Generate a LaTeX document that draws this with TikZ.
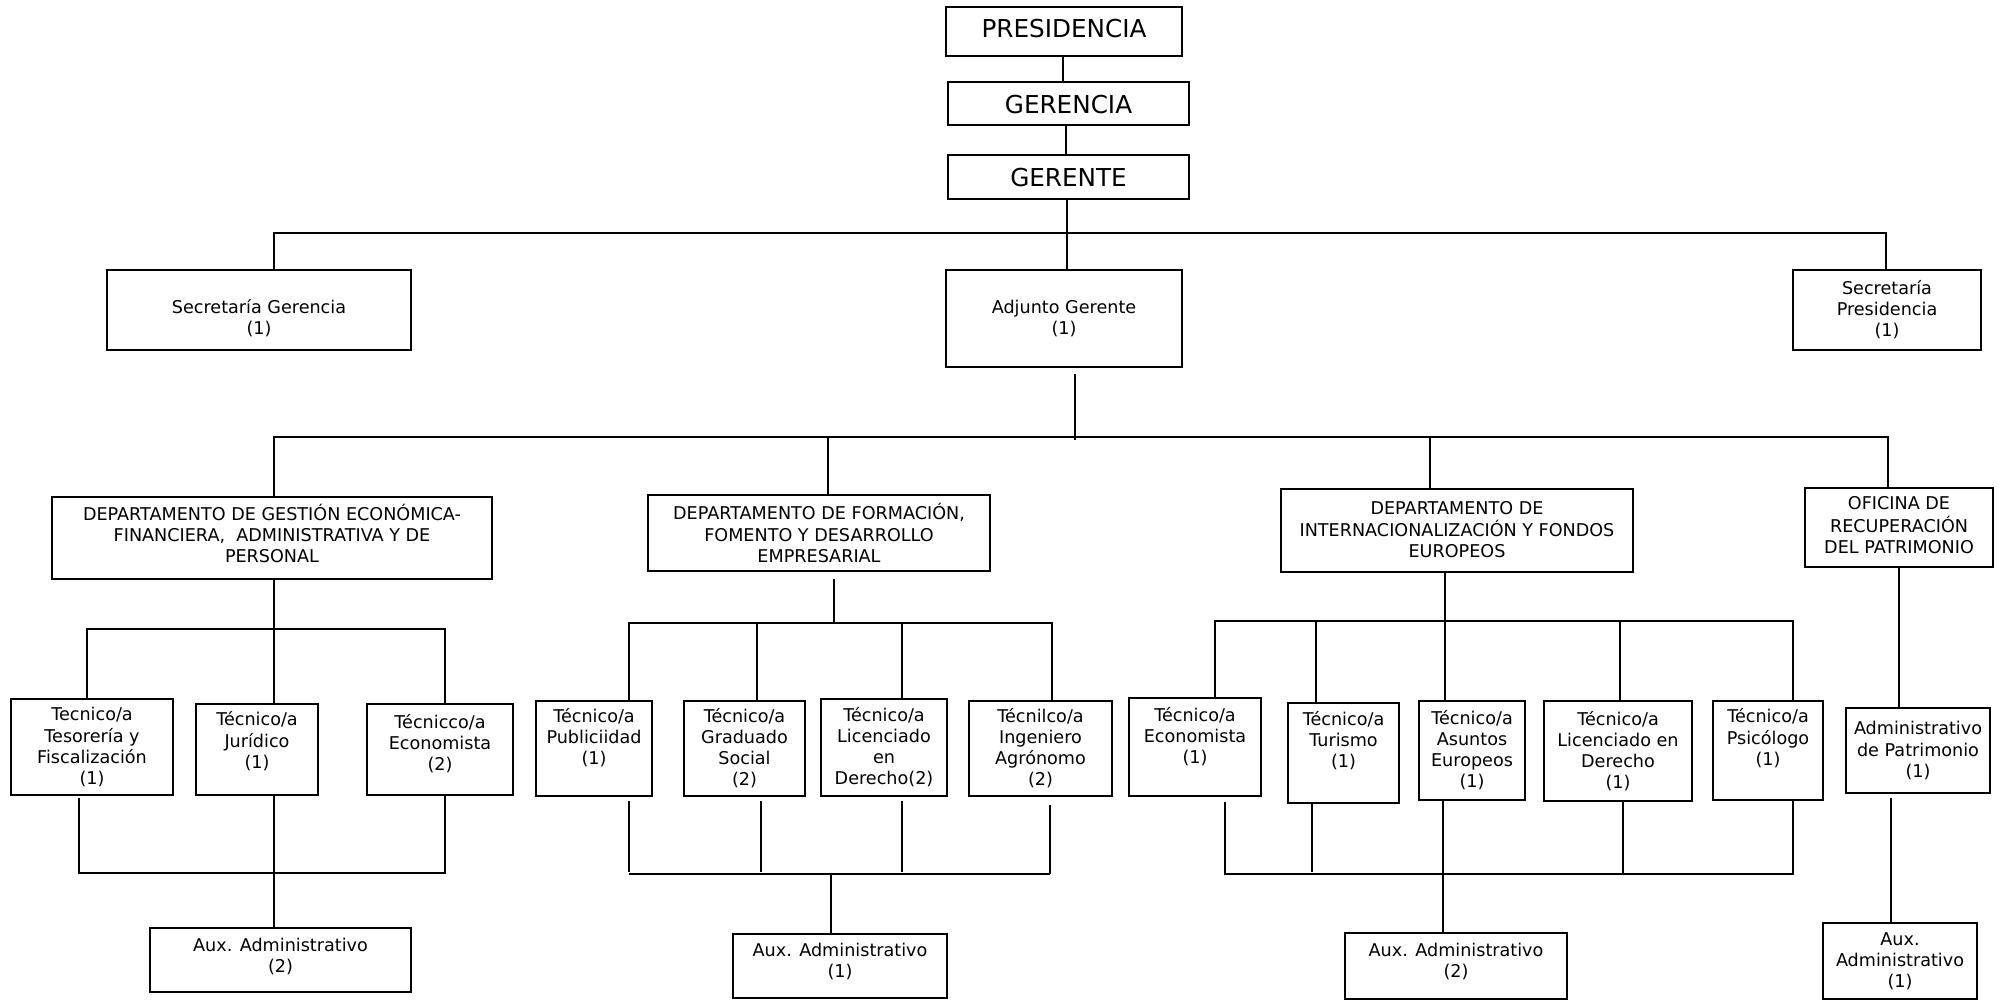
\documentclass[tikz,border=0pt]{standalone}
\usepackage{fontspec}
\setmainfont{DejaVu Sans}
\newcommand{\shiftup}[2]{\raisebox{#1}[\height][\depth]{\begin{tabular}{@{}c@{}}#2\end{tabular}}}
\begin{document}
\begin{tikzpicture}[x=0.75pt,y=-0.75pt,
  wh/.style 2 args={minimum width=#1*0.75pt, minimum height=#2*0.75pt},
  box/.style={draw, line width=1.3pt, align=center, inner sep=0pt, font=\fontsize{13.2}{15.8}\selectfont},
  bigbox/.style={box, font=\fontsize{18.5}{22}\selectfont},
  conn/.style={line width=1.1pt}]
\useasboundingbox (0,0) rectangle (2001,1001);
% top levels
\node[bigbox, wh={236}{49}] (pres) at (1064,31.5) {\shiftup{0pt}{PRESIDENCIA}};
\node[bigbox, wh={241}{43}] (ger) at (1068.5,103.5) {\shiftup{-3pt}{GERENCIA}};
\node[bigbox, wh={241}{44}] (gte) at (1068.5,177) {\shiftup{-3pt}{GERENTE}};
\node[box, wh={304}{80}] (secg) at (259,310) {\shiftup{-7pt}{Secretaría Gerencia\\(1)}};
\node[box, wh={236}{97}] (adj) at (1064,318.5) {Adjunto Gerente\\(1)};
\node[box, wh={188}{80}] (secp) at (1887,310) {Secretaría\\Presidencia\\(1)};
% departments
\node[box, wh={440}{82}] (d1) at (272,538) {\shiftup{1pt}{DEPARTAMENTO DE GESTIÓN ECONÓMICA-\\FINANCIERA,\ \ ADMINISTRATIVA Y DE\\PERSONAL}};
\node[box, wh={342}{76}] (d2) at (819,533) {DEPARTAMENTO DE FORMACIÓN,\\FOMENTO Y DESARROLLO\\EMPRESARIAL};
\node[box, wh={352}{83}] (d3) at (1457,530.5) {\shiftup{-1pt}{DEPARTAMENTO DE\\INTERNACIONALIZACIÓN Y FONDOS\\EUROPEOS}};
\node[box, wh={188}{79}] (d4) at (1899,527.5) {\shiftup{0pt}{OFICINA DE\\RECUPERACIÓN\\DEL PATRIMONIO}};
% technicians
\node[box, wh={162}{96}] (t1) at (92,747) {Tecnico/a\\Tesorería y\\Fiscalización\\(1)};
\node[box, wh={122}{91}] (t2) at (257,749.5) {\shiftup{5pt}{Técnico/a\\Jurídico\\(1)}};
\node[box, wh={146}{91}] (t3) at (440,749.5) {\shiftup{3pt}{Técnicco/a\\Economista\\(2)}};
\node[box, wh={116}{95}] (t4) at (594,748.5) {\shiftup{7pt}{Técnico/a\\Publiciidad\\(1)}};
\node[box, wh={121}{95}] (t5) at (744.5,748.5) {Técnico/a\\Graduado\\Social\\(2)};
\node[box, wh={126}{97}] (t6) at (884,747.5) {Técnico/a\\Licenciado\\en\\Derecho(2)};
\node[box, wh={143}{95}] (t7) at (1040.5,748.5) {Técnilco/a\\Ingeniero\\Agrónomo\\(2)};
\node[box, wh={132}{98}] (t8) at (1195,747) {\shiftup{6.5pt}{Técnico/a\\Economista\\(1)}};
\node[box, wh={111}{100}] (t9) at (1343.5,753) {\shiftup{8pt}{Técnico/a\\Turismo\\(1)}};
\node[box, wh={106}{99}] (t10) at (1472,750.5) {Técnico/a\\Asuntos\\Europeos\\(1)};
\node[box, wh={148}{100}] (t11) at (1618,751) {Técnico/a\\Licenciado en\\Derecho\\(1)};
\node[box, wh={110}{99}] (t12) at (1768,750.5) {\shiftup{8pt}{Técnico/a\\Psicólogo\\(1)}};
\node[box, wh={144}{85}] (t13) at (1918,750.5) {Administrativo\\de Patrimonio\\(1)};
% auxiliaries
\node[box, wh={261}{64}] (a1) at (280.5,960) {\shiftup{2pt}{Aux. Administrativo\\(2)}};
\node[box, wh={214}{64}] (a2) at (840,966) {\shiftup{2.5pt}{Aux. Administrativo\\(1)}};
\node[box, wh={222}{66}] (a3) at (1456,966) {\shiftup{2.5pt}{Aux. Administrativo\\(2)}};
\node[box, wh={154}{76}] (a4) at (1900,961) {Aux.\\Administrativo\\(1)};
% ---- connectors: top
\coordinate (v1) at (1063,0);
\coordinate (v2) at (1066,0);
\draw[conn] (pres.south -| v1) -- (ger.north -| v1);
\draw[conn] (ger.south -| v2) -- (gte.north -| v2);
\coordinate (b1L) at (274,233);
\coordinate (b1R) at (1886,233);
\coordinate (b1M) at (1067,233);
\draw[conn] (gte.south -| b1M) -- (adj.north -| b1M);
\draw[conn] (secg.north -| b1L) -- (b1L) -- (b1R) -- (secp.north -| b1R);
% adjunto to departments
\coordinate (b2a) at (1075,437);
\coordinate (b2L) at (274,437);
\coordinate (b2R) at (1888,437);
\coordinate (b2d2) at (828,437);
\coordinate (b2d3) at (1430,437);
\draw[conn] ([yshift=-4.5pt]b2a |- adj.south) -- ([yshift=-2pt]b2a);
\draw[conn] (d1.north -| b2L) -- (b2L) -- (b2R) -- (d4.north -| b2R);
\draw[conn] (b2d2) -- (b2d2 |- d2.north);
\draw[conn] (b2d3) -- (b2d3 |- d3.north);
% dept 1
\coordinate (c1) at (274,629);
\coordinate (c1L) at (87,629);
\coordinate (c1R) at (445,629);
\draw[conn] (d1.south -| c1) -- (c1);
\draw[conn] (t1.north -| c1L) -- (c1L) -- (c1R) -- (t3.north -| c1R);
\draw[conn] (c1) -- (t2.north -| c1);
\coordinate (e1L) at (79,873);
\coordinate (e1M) at (274,873);
\coordinate (e1R) at (445,873);
\draw[conn] ([yshift=-1.5pt]t1.south -| e1L) -- (e1L) -- (e1R) -- (t3.south -| e1R);
\draw[conn] (t2.south -| e1M) -- (a1.north -| e1M);
% dept 2
\coordinate (c2) at (834,623);
\coordinate (c2L) at (629,623);
\coordinate (c2b) at (757,623);
\coordinate (c2c) at (902,623);
\coordinate (c2R) at (1052,623);
\draw[conn] ([yshift=-5pt]d2.south -| c2) -- (c2);
\draw[conn] (t4.north -| c2L) -- (c2L) -- (c2R) -- (t7.north -| c2R);
\draw[conn] (c2b) -- (t5.north -| c2b);
\draw[conn] (c2c) -- (t6.north -| c2c);
\coordinate (e2L) at (629,874);
\coordinate (e2b) at (761,874);
\coordinate (e2c) at (902,874);
\coordinate (e2R) at (1050,874);
\coordinate (e2M) at (831,874);
\draw[conn] ([yshift=-3pt]t4.south -| e2L) -- ([yshift=1.5pt]e2L);
\draw[conn] (e2L) -- (e2R);
\draw[conn] ([yshift=-6pt]t7.south -| e2R) -- (e2R);
\draw[conn] ([yshift=-3pt]t5.south -| e2b) -- ([yshift=1.5pt]e2b);
\draw[conn] ([yshift=-3pt]t6.south -| e2c) -- ([yshift=1.5pt]e2c);
\draw[conn] (e2M) -- (a2.north -| e2M);
% dept 3
\coordinate (c3) at (1445,621);
\coordinate (c3L) at (1215,621);
\coordinate (c3b) at (1316,621);
\coordinate (c3d) at (1620,621);
\coordinate (c3R) at (1793,621);
\draw[conn] (d3.south -| c3) -- (c3);
\draw[conn] (t8.north -| c3L) -- (c3L) -- (c3R) -- (t12.north -| c3R);
\draw[conn] (c3b) -- (t9.north -| c3b);
\draw[conn] (c3) -- (t10.north -| c3);
\draw[conn] (c3d) -- (t11.north -| c3d);
\coordinate (e3L) at (1225,874);
\coordinate (e3b) at (1312,874);
\coordinate (e3M) at (1443,874);
\coordinate (e3d) at (1623,874);
\coordinate (e3R) at (1793,874);
\draw[conn] ([yshift=-4pt]t8.south -| e3L) -- (e3L) -- (e3R) -- (t12.south -| e3R);
\draw[conn] (t9.south -| e3b) -- ([yshift=1.5pt]e3b);
\draw[conn] (t11.south -| e3d) -- (e3d);
\draw[conn] (t10.south -| e3M) -- (a3.north -| e3M);
% dept 4
\coordinate (f4a) at (1899,600);
\coordinate (f4b) at (1891,850);
\draw[conn] (d4.south -| f4a) -- (t13.north -| f4a);
\draw[conn] ([yshift=-3pt]t13.south -| f4b) -- (a4.north -| f4b);
\end{tikzpicture}
\end{document}
